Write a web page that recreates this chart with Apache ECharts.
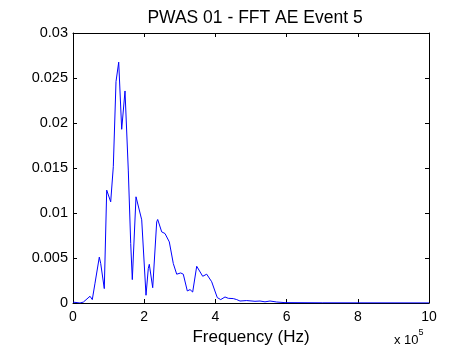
<!DOCTYPE html>
<html>
<head>
<meta charset="utf-8">
<script src="https://cdn.jsdelivr.net/npm/echarts@6/dist/echarts.min.js"></script>
<style>
html,body{margin:0;padding:0;background:#fff;}
#chart{width:452px;height:354px;}
</style>
</head>
<body>
<div id="chart"></div>
<script>
// Frequency in units of 10^5 Hz
var freq = [0.0, 0.197, 0.29, 0.478, 0.542, 0.618, 0.739, 0.778, 0.879, 0.947,
  1.003, 1.059, 1.132, 1.208, 1.284, 1.368, 1.461, 1.553, 1.621, 1.666,
  1.770, 1.817, 1.930, 2.051, 2.115, 2.143, 2.239, 2.351, 2.379, 2.492,
  2.584, 2.705, 2.817, 2.913, 3.025, 3.098, 3.211, 3.287, 3.362, 3.475,
  3.643, 3.756, 3.896, 3.997, 4.053, 4.149, 4.270, 4.362, 4.503, 4.598,
  4.691, 4.879, 5.112, 5.253, 5.393, 5.534, 5.722, 5.955, 7.0, 10.0];
var amplitude = [0.0001, 0.0000, 0.0001, 0.00075, 0.00038, 0.0022, 0.0051, 0.0044, 0.0016, 0.01254,
  0.01273, 0.01124, 0.01514, 0.0246, 0.02676, 0.0193, 0.02356, 0.01477, 0.00661, 0.0026,
  0.0118, 0.0120, 0.00924, 0.00086, 0.00383, 0.0043, 0.0017, 0.00901, 0.00928, 0.0079,
  0.00772, 0.00679, 0.00439, 0.0032, 0.00334, 0.0032, 0.00134, 0.00149, 0.00122, 0.00408,
  0.00297, 0.0032, 0.00236, 0.00122, 0.0006, 0.00038, 0.00067, 0.00052, 0.00049, 0.00038,
  0.00022, 0.00027, 0.00019, 0.00022, 0.00013, 0.00022, 0.00011, 0.00004, 0.00002, 0.00001];
var xTickLabels = ['0', '2', '4', '6', '8', '10'];
var yTickLabels = ['0', '0.005', '0.01', '0.015', '0.02', '0.025', '0.03'];
var titleText = 'PWAS 01 - FFT AE Event 5';
var xAxisName = 'Frequency (Hz)';

var points = freq.map(function (f, i) { return [f, amplitude[i]]; });
var FONT = 'Liberation Sans';

function xFmt(v) { var i = Math.round(v / 2); return xTickLabels[i] !== undefined ? xTickLabels[i] : ''; }
function yFmt(v) { var i = Math.round(v / 0.005); return yTickLabels[i] !== undefined ? yTickLabels[i] : ''; }

var axisCommon = {
  type: 'value',
  axisLine: { show: true, onZero: false, lineStyle: { color: '#000', width: 1 } },
  axisTick: { show: true, inside: true, length: 4, lineStyle: { color: '#000' } },
  splitLine: { show: false }
};

var chart = echarts.init(document.getElementById('chart'), null, { renderer: 'canvas' });
chart.setOption({
  backgroundColor: '#fff',
  animation: false,
  title: [
    { text: titleText, left: 250, top: 4, textAlign: 'center',
      textStyle: { fontFamily: FONT, fontSize: 17.5, fontWeight: 'normal', color: '#000' } },
    { text: '{b|x 10}{s|5}', left: 389, top: 323,
      textStyle: { fontWeight: 'normal', rich: {
        b: { fontFamily: FONT, fontSize: 13, fontWeight: 'normal', color: '#000', verticalAlign: 'bottom', padding: [6, 0, 0, 0] },
        s: { fontFamily: FONT, fontSize: 9, fontWeight: 'normal', color: '#000', verticalAlign: 'top' }
      } } }
  ],
  grid: { left: 73, right: 23, top: 33, bottom: 51, containLabel: false },
  xAxis: [
    Object.assign({}, axisCommon, {
      position: 'bottom', min: 0, max: 10, interval: 2,
      name: xAxisName, nameLocation: 'middle', nameGap: 21,
      nameTextStyle: { fontFamily: FONT, fontSize: 17, color: '#000' },
      axisLabel: { formatter: xFmt, fontFamily: FONT, fontSize: 14, color: '#000', margin: 7 }
    }),
    Object.assign({}, axisCommon, {
      position: 'top', min: 0, max: 10, interval: 2,
      axisLabel: { show: false }
    })
  ],
  yAxis: [
    Object.assign({}, axisCommon, {
      position: 'left', min: 0, max: 0.03, interval: 0.005,
      axisLabel: { formatter: yFmt, fontFamily: FONT, fontSize: 14.5, color: '#000', margin: 5 }
    }),
    Object.assign({}, axisCommon, {
      position: 'right', min: 0, max: 0.03, interval: 0.005,
      axisLabel: { show: false }
    })
  ],
  series: [{
    type: 'line',
    data: points,
    xAxisIndex: 0, yAxisIndex: 0,
    showSymbol: false,
    smooth: false,
    lineStyle: { color: '#0000ff', width: 1 },
    z: 1
  }]
});
</script>
</body>
</html>
